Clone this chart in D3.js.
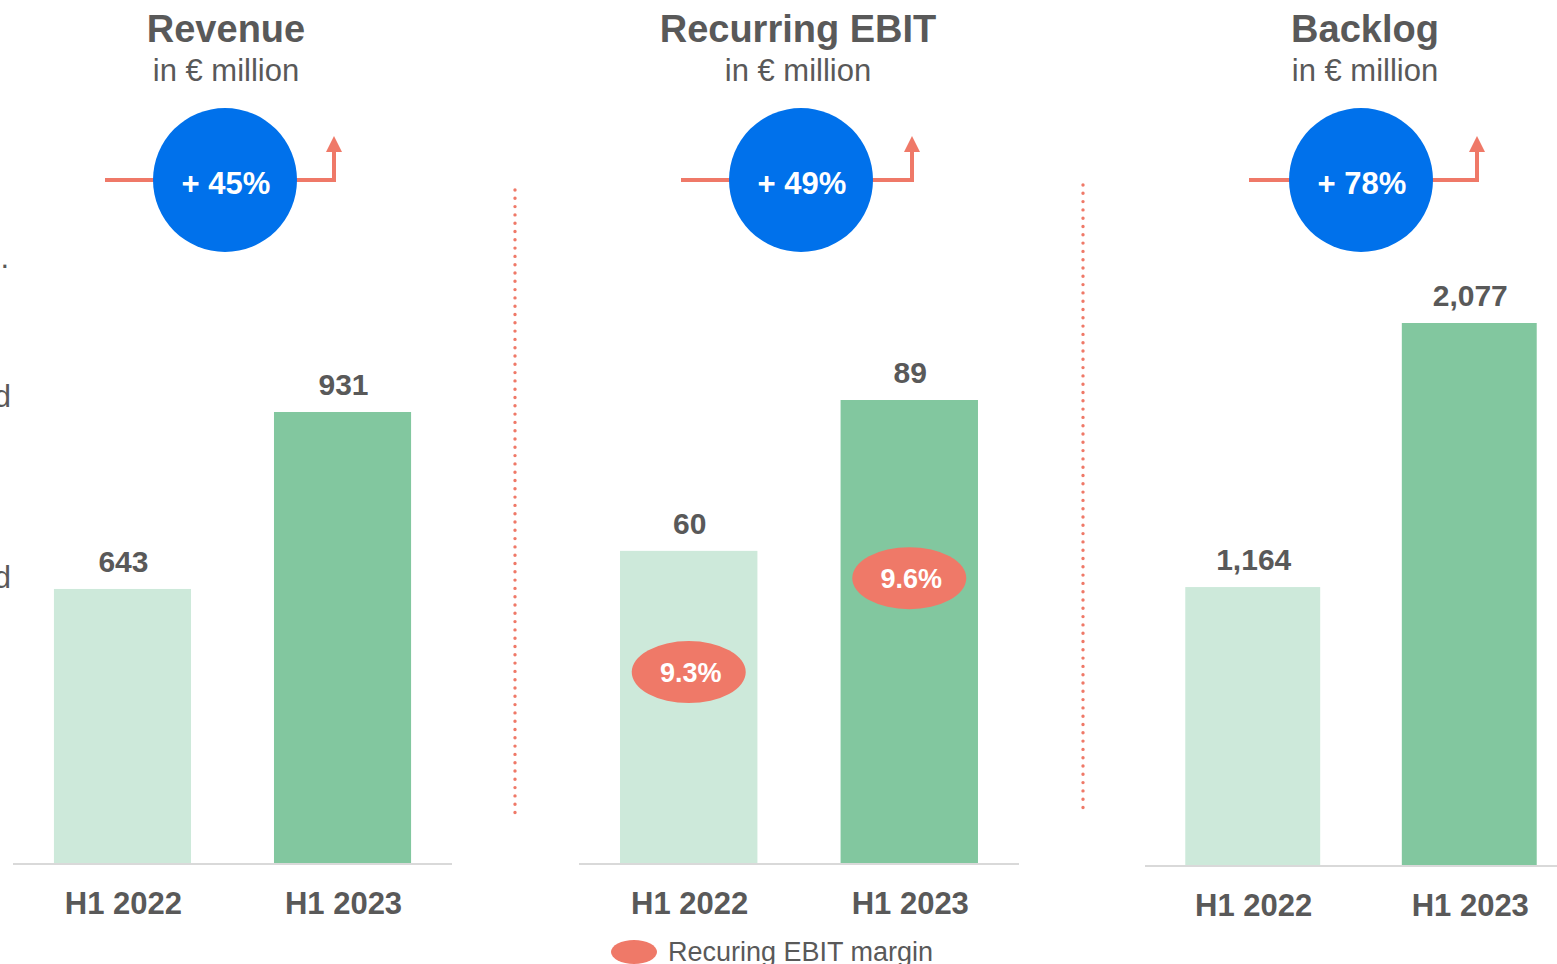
<!DOCTYPE html>
<html>
<head>
<meta charset="utf-8">
<script src="https://cdn.jsdelivr.net/npm/d3@7"></script>
<style>
  body { margin: 0; background: #fff; overflow: hidden; }
  svg { display: block; font-family: "Liberation Sans", Arial, sans-serif; }
</style>
</head>
<body>
<svg width="1557" height="964"></svg>
<script>
// data
const categories = ["H1 2022", "H1 2023"];
const titles = ["Revenue", "Recurring EBIT", "Backlog"];
const subtitle = "in € million";
const revenue = [643, 931];
const ebit = [60, 89];
const backlog = [1164, 2077];
const growth = ["+ 45%", "+ 49%", "+ 78%"];
const ebitMargin = [9.3, 9.6];
const legendLabel = "Recuring EBIT margin";

const textColor = "#595959";
const lightGreen = "#cde9da";
const darkGreen = "#82c79f";
const blue = "#0071eb";
const coral = "#ef7968";

const svg = d3.select("svg");

// cut-off text from the neighbouring slide element
svg.append("text").attr("x", 9).attr("y", 268).attr("text-anchor", "end")
  .attr("font-size", 31).attr("fill", textColor).text(".");
svg.append("text").attr("x", 11).attr("y", 407).attr("text-anchor", "end")
  .attr("font-size", 31).attr("fill", textColor).text("d");
svg.append("text").attr("x", 11).attr("y", 588).attr("text-anchor", "end")
  .attr("font-size", 31).attr("fill", textColor).text("d");

// layout per panel (the reference axes are truncated for revenue and backlog)
const panels = [
  {values: revenue, title: titles[0], growth: growth[0], xr: [13, 452], base: 863, dom: [197, 931], top: 412, cx: 225, gap: [105, 334]},
  {values: ebit, title: titles[1], growth: growth[1], xr: [579, 1019], base: 863, dom: [0, 89], top: 400, cx: 801, gap: [681, 912]},
  {values: backlog, title: titles[2], growth: growth[2], xr: [1145, 1577], base: 865, dom: [203, 2077], top: 323, cx: 1361, gap: [1249, 1477]}
];

const titleX = [226, 798, 1365];
const r = 72;
const cy = 180;

panels.forEach((p, i) => {
  const g = svg.append("g");

  const x = d3.scaleBand().domain(categories).range(p.xr)
    .paddingInner(0.377).paddingOuter(0.186);
  const y = d3.scaleLinear().domain(p.dom).range([p.base, p.top]);
  p.x = x;

  // titles
  g.append("text").attr("x", titleX[i]).attr("y", 42).attr("text-anchor", "middle")
    .attr("font-size", 38).attr("font-weight", "bold").attr("fill", textColor)
    .text(p.title);
  g.append("text").attr("x", titleX[i]).attr("y", 81).attr("text-anchor", "middle")
    .attr("font-size", 31).attr("fill", textColor).text(subtitle);

  // growth arrow
  g.append("line").attr("x1", p.gap[0]).attr("x2", p.cx).attr("y1", cy).attr("y2", cy)
    .attr("stroke", coral).attr("stroke-width", 4);
  g.append("path")
    .attr("d", `M${p.cx},${cy}H${p.gap[1]}V151`)
    .attr("fill", "none").attr("stroke", coral).attr("stroke-width", 4);
  g.append("path")
    .attr("d", `M${p.gap[1] - 8},152L${p.gap[1]},136L${p.gap[1] + 8},152Z`)
    .attr("fill", coral);
  g.append("circle").attr("cx", p.cx).attr("cy", cy).attr("r", r).attr("fill", blue);
  g.append("text").attr("x", p.cx + 1).attr("y", cy + 14).attr("text-anchor", "middle")
    .attr("font-size", 31).attr("font-weight", "bold").attr("fill", "#fff")
    .text(p.growth);

  // axis line
  g.append("line").attr("x1", p.xr[0]).attr("x2", Math.min(p.xr[1], 1557))
    .attr("y1", p.base + 1).attr("y2", p.base + 1)
    .attr("stroke", "#d9d9d9").attr("stroke-width", 2);

  // bars
  g.selectAll(".bar").data(p.values).join("rect")
    .attr("class", "bar")
    .attr("x", (d, j) => x(categories[j]))
    .attr("width", x.bandwidth())
    .attr("y", d => y(d))
    .attr("height", d => p.base - y(d))
    .attr("fill", (d, j) => j === 0 ? lightGreen : darkGreen);

  // value labels
  g.selectAll(".val").data(p.values).join("text")
    .attr("class", "val")
    .attr("x", (d, j) => x(categories[j]) + x.bandwidth() / 2 + 1)
    .attr("y", d => y(d) - 17)
    .attr("text-anchor", "middle").attr("font-size", 30).attr("font-weight", "bold")
    .attr("fill", textColor)
    .text(d => d3.format(",")(d));

  // category labels
  g.selectAll(".cat").data(categories).join("text")
    .attr("class", "cat")
    .attr("x", d => x(d) + x.bandwidth() / 2 + 1)
    .attr("y", p.base + 51)
    .attr("text-anchor", "middle").attr("font-size", 31).attr("font-weight", "bold")
    .attr("fill", textColor)
    .text(d => d);
});

// EBIT margin bubbles
const ebitX = panels[1].x;
const my = d3.scaleLinear().domain([9, 10]).range([766, 453]);
const mg = svg.append("g");
mg.selectAll("ellipse").data(ebitMargin).join("ellipse")
  .attr("cx", (d, j) => ebitX(categories[j]) + ebitX.bandwidth() / 2)
  .attr("cy", d => my(d))
  .attr("rx", 57).attr("ry", 31)
  .attr("fill", coral);
mg.selectAll("text").data(ebitMargin).join("text")
  .attr("x", (d, j) => ebitX(categories[j]) + ebitX.bandwidth() / 2 + 2)
  .attr("y", d => my(d) + 10)
  .attr("text-anchor", "middle").attr("font-size", 27).attr("font-weight", "bold")
  .attr("fill", "#fff")
  .text(d => d.toFixed(1) + "%");

// dotted separators
[[515, 190, 820], [1083, 185, 815]].forEach(([sx, y1, y2]) => {
  svg.append("line").attr("x1", sx).attr("x2", sx).attr("y1", y1).attr("y2", y2)
    .attr("stroke", coral).attr("stroke-width", 3.4)
    .attr("stroke-linecap", "round").attr("stroke-dasharray", "0 8.3");
});

// legend
svg.append("ellipse").attr("cx", 634).attr("cy", 952).attr("rx", 23).attr("ry", 12)
  .attr("fill", coral);
svg.append("text").attr("x", 668).attr("y", 961).attr("font-size", 27)
  .attr("fill", textColor).text(legendLabel);
</script>
</body>
</html>
